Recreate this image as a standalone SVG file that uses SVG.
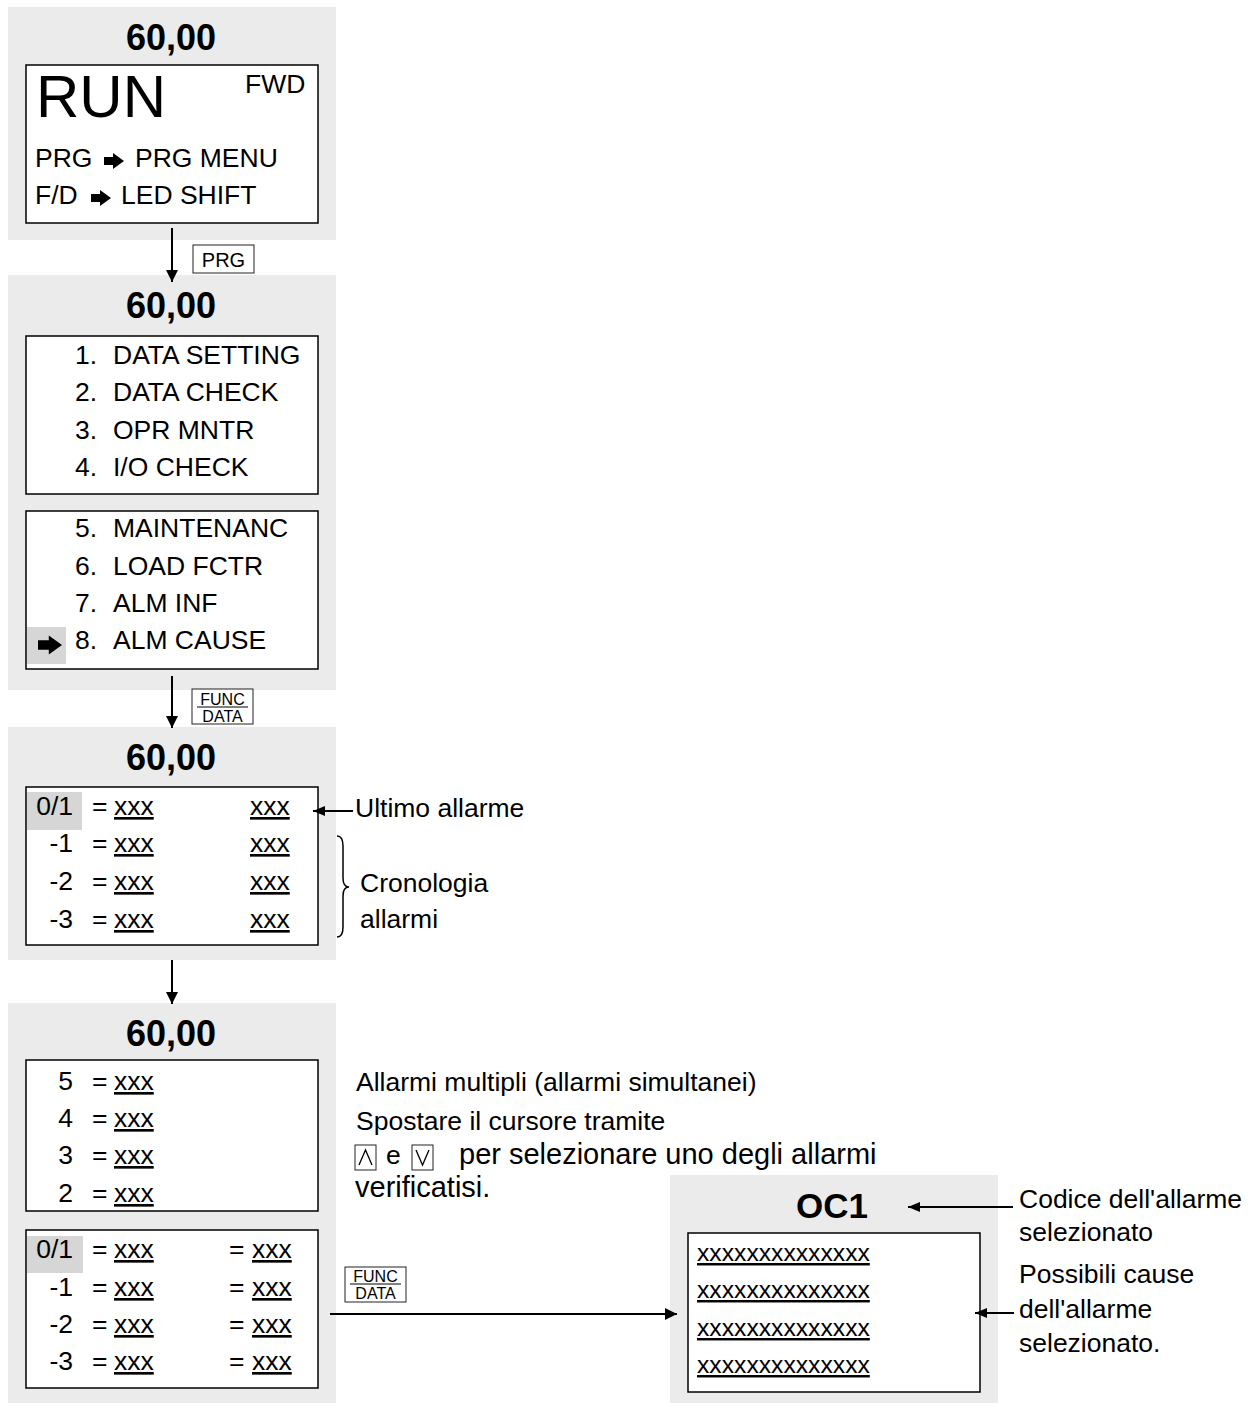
<svg xmlns="http://www.w3.org/2000/svg" xmlns:xlink="http://www.w3.org/1999/xlink" width="1258" height="1403" viewBox="0 0 1258 1403">
<style>
.bg{fill:#ebebeb}
.box{fill:#fff;stroke:#000;stroke-width:1.5}
.hl{fill:#d6d6d6}
text{font-family:"Liberation Sans",Arial,sans-serif;font-size:26.5px;fill:#000}
.big{font-weight:bold;font-size:36px;text-anchor:middle}
.u{text-decoration:underline}
.r{text-anchor:end}
.key{fill:#fff;stroke:#222;stroke-width:1}
.kt{font-size:16px;text-anchor:middle}
.con{stroke:#000;stroke-width:2;fill:none}
.ann{stroke:#000;stroke-width:1.8;fill:none}
.ann3{font-size:29px}
</style>
<defs>
<marker id="ah" markerUnits="userSpaceOnUse" markerWidth="13" markerHeight="13" refX="12" refY="6" orient="auto"><path d="M0,0 L12,6 L0,12 Z" fill="#000"/></marker>
<marker id="ah2" markerUnits="userSpaceOnUse" markerWidth="13" markerHeight="11" refX="12" refY="5" orient="auto"><path d="M0,0 L12,5 L0,10 Z" fill="#000"/></marker>
<path id="fa" d="M0,-4 H9 V-8 L20,0 L9,8 V4 H0 Z" fill="#000"/>
</defs>

<g id="panel-run">
<rect class="bg" x="8" y="7" width="328" height="233"/>
<text class="big" x="171" y="50">60,00</text>
<rect class="box" x="26" y="65" width="292" height="158"/>
<text x="36" y="117" style="font-size:60px">RUN</text>
<text x="245" y="93">FWD</text>
<text x="35" y="167">PRG</text>
<use xlink:href="#fa" x="104" y="161"/>
<text x="135" y="167">PRG MENU</text>
<text x="35" y="204">F/D</text>
<use xlink:href="#fa" x="91" y="198"/>
<text x="121" y="204">LED SHIFT</text>
</g>

<g id="panel-menu">
<rect class="bg" x="8" y="275" width="328" height="415"/>
<text class="big" x="171" y="318">60,00</text>
<rect class="box" x="26" y="336" width="292" height="158"/>
<text x="75" y="364">1.</text><text x="113" y="364">DATA SETTING</text>
<text x="75" y="401">2.</text><text x="113" y="401">DATA CHECK</text>
<text x="75" y="439">3.</text><text x="113" y="439">OPR MNTR</text>
<text x="75" y="476">4.</text><text x="113" y="476">I/O CHECK</text>
<rect class="box" x="26" y="511" width="292" height="158"/>
<rect class="hl" x="27" y="627" width="39" height="37"/>
<text x="75" y="537">5.</text><text x="113" y="537">MAINTENANC</text>
<text x="75" y="575">6.</text><text x="113" y="575">LOAD FCTR</text>
<text x="75" y="612">7.</text><text x="113" y="612">ALM INF</text>
<text x="75" y="649">8.</text><text x="113" y="649">ALM CAUSE</text>
<use xlink:href="#fa" transform="translate(38,645) scale(1.2)"/>
</g>

<g id="panel-history">
<rect class="bg" x="8" y="727" width="328" height="233"/>
<text class="big" x="171" y="770">60,00</text>
<rect class="box" x="26" y="787" width="292" height="158"/>
<rect class="hl" x="27" y="792" width="55" height="38"/>
<text class="r" x="73" y="815">0/1</text><text x="92" y="815">=</text><text class="u" x="114" y="815">xxx</text><text class="u" x="250" y="815">xxx</text>
<text class="r" x="73" y="852">-1</text><text x="92" y="852">=</text><text class="u" x="114" y="852">xxx</text><text class="u" x="250" y="852">xxx</text>
<text class="r" x="73" y="890">-2</text><text x="92" y="890">=</text><text class="u" x="114" y="890">xxx</text><text class="u" x="250" y="890">xxx</text>
<text class="r" x="73" y="928">-3</text><text x="92" y="928">=</text><text class="u" x="114" y="928">xxx</text><text class="u" x="250" y="928">xxx</text>
</g>

<g id="panel-multi">
<rect class="bg" x="8" y="1003" width="328" height="400"/>
<text class="big" x="171" y="1046">60,00</text>
<rect class="box" x="26" y="1060" width="292" height="151"/>
<text class="r" x="73" y="1090">5</text><text x="92" y="1090">=</text><text class="u" x="114" y="1090">xxx</text>
<text class="r" x="73" y="1127">4</text><text x="92" y="1127">=</text><text class="u" x="114" y="1127">xxx</text>
<text class="r" x="73" y="1164">3</text><text x="92" y="1164">=</text><text class="u" x="114" y="1164">xxx</text>
<text class="r" x="73" y="1202">2</text><text x="92" y="1202">=</text><text class="u" x="114" y="1202">xxx</text>
<rect class="box" x="26" y="1230" width="292" height="158"/>
<rect class="hl" x="27" y="1236" width="56" height="37"/>
<text class="r" x="73" y="1258">0/1</text><text x="92" y="1258">=</text><text class="u" x="114" y="1258">xxx</text><text x="229" y="1258">=</text><text class="u" x="252" y="1258">xxx</text>
<text class="r" x="73" y="1296">-1</text><text x="92" y="1296">=</text><text class="u" x="114" y="1296">xxx</text><text x="229" y="1296">=</text><text class="u" x="252" y="1296">xxx</text>
<text class="r" x="73" y="1333">-2</text><text x="92" y="1333">=</text><text class="u" x="114" y="1333">xxx</text><text x="229" y="1333">=</text><text class="u" x="252" y="1333">xxx</text>
<text class="r" x="73" y="1370">-3</text><text x="92" y="1370">=</text><text class="u" x="114" y="1370">xxx</text><text x="229" y="1370">=</text><text class="u" x="252" y="1370">xxx</text>
</g>

<g id="panel-cause">
<rect class="bg" x="670" y="1175" width="328" height="228"/>
<text class="big" x="832" y="1218" style="font-size:35px">OC1</text>
<rect class="box" x="688" y="1233" width="292" height="159"/>
<text class="u" x="697" y="1261" style="font-size:24.7px">xxxxxxxxxxxxxx</text>
<text class="u" x="697" y="1298" style="font-size:24.7px">xxxxxxxxxxxxxx</text>
<text class="u" x="697" y="1336" style="font-size:24.7px">xxxxxxxxxxxxxx</text>
<text class="u" x="697" y="1373" style="font-size:24.7px">xxxxxxxxxxxxxx</text>
</g>

<g id="notes">
<text x="355" y="817">Ultimo allarme</text>
<path class="ann" d="M337,836 Q343,836 343,846 V878 Q343,887 349,887 Q343,887 343,896 V927 Q343,937 337,937" style="stroke-width:1.5"/>
<text x="360" y="892">Cronologia</text>
<text x="360" y="928">allarmi</text>
<text x="356" y="1091">Allarmi multipli (allarmi simultanei)</text>
<text x="356" y="1130">Spostare il cursore tramite</text>
<rect class="key" x="355" y="1145" width="21" height="25"/>
<path d="M359,1165 L365.5,1150 L372,1165" fill="none" stroke="#000" stroke-width="1.3"/>
<text x="386" y="1164">e</text>
<rect class="key" x="412" y="1145" width="21" height="25"/>
<path d="M416,1150 L422.5,1165 L429,1150" fill="none" stroke="#000" stroke-width="1.3"/>
<text class="ann3" x="459" y="1164">per selezionare uno degli allarmi</text>
<text class="ann3" x="355" y="1197">verificatisi.</text>
<text x="1019" y="1208">Codice dell'allarme</text>
<text x="1019" y="1241">selezionato</text>
<text x="1019" y="1283">Possibili cause</text>
<text x="1019" y="1318">dell'allarme</text>
<text x="1019" y="1352">selezionato.</text>
</g>

<g id="keys">
<rect class="key" x="193" y="245" width="61" height="28"/>
<text class="kt" x="223.5" y="267" style="font-size:20px">PRG</text>
<rect class="key" x="192" y="689" width="61" height="35"/>
<line x1="197" y1="707" x2="248" y2="707" stroke="#000" stroke-width="1"/>
<text class="kt" x="222.5" y="705">FUNC</text>
<text class="kt" x="222.5" y="722">DATA</text>
<rect class="key" x="345" y="1267" width="61" height="35"/>
<line x1="350" y1="1284" x2="401" y2="1284" stroke="#000" stroke-width="1"/>
<text class="kt" x="375.5" y="1282">FUNC</text>
<text class="kt" x="375.5" y="1299">DATA</text>
</g>

<g id="connectors">
<line class="con" x1="172" y1="228" x2="172" y2="282" marker-end="url(#ah)"/>
<line class="con" x1="172" y1="676" x2="172" y2="728" marker-end="url(#ah)"/>
<line class="con" x1="172" y1="960" x2="172" y2="1004" marker-end="url(#ah)"/>
<line class="con" x1="330" y1="1314" x2="677" y2="1314" marker-end="url(#ah)"/>
<line class="ann" x1="353" y1="811" x2="313" y2="811" marker-end="url(#ah2)"/>
<line class="ann" x1="1013" y1="1207" x2="908" y2="1207" marker-end="url(#ah2)"/>
<line class="ann" x1="1014" y1="1313" x2="975" y2="1313" marker-end="url(#ah2)"/>
</g>
</svg>
